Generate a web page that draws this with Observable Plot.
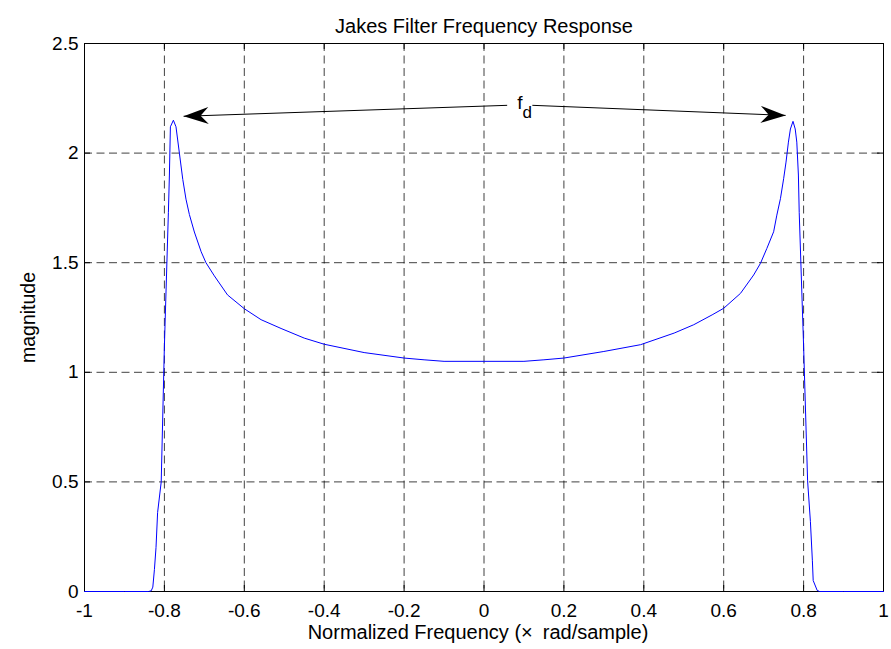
<!DOCTYPE html>
<html><head><meta charset="utf-8">
<script src="https://cdn.jsdelivr.net/npm/d3@7"></script>
<script src="https://cdn.jsdelivr.net/npm/@observablehq/plot@0.6"></script>
<style>body{margin:0;background:#fff} svg{display:block}</style>
</head><body><div id="chart"></div>
<script>
// Curve readings (normalized frequency, magnitude)
const freq = [-1, -0.9, -0.84, -0.833, -0.829, -0.825, -0.821, -0.817, -0.808, -0.80, -0.79, -0.7875, -0.785, -0.7775,
  -0.771, -0.7625, -0.754, -0.746, -0.7375, -0.725, -0.708, -0.696, -0.675, -0.642, -0.6, -0.558, -0.508, -0.45, -0.4,
  -0.3, -0.2, -0.15, -0.1, 0, 0.1, 0.15, 0.2, 0.3, 0.392, 0.476, 0.525, 0.571, 0.6, 0.642, 0.675, 0.692, 0.708, 0.725,
  0.733, 0.742, 0.75, 0.756, 0.762, 0.767, 0.7735, 0.779, 0.783, 0.787, 0.789, 0.80, 0.81, 0.817, 0.822, 0.824, 0.834,
  0.84, 0.9, 1];
const magnitude = [0, 0, 0, 0.003, 0.02, 0.10, 0.20, 0.36, 0.50, 1.12, 1.73, 1.90, 2.12, 2.15,
  2.12, 2.00, 1.88, 1.79, 1.72, 1.64, 1.55, 1.50, 1.44, 1.353, 1.29, 1.24, 1.20, 1.156, 1.128,
  1.09, 1.065, 1.057, 1.05, 1.05, 1.05, 1.057, 1.065, 1.095, 1.126, 1.179, 1.217, 1.262, 1.292, 1.36, 1.444, 1.497, 1.565, 1.641,
  1.717, 1.792, 1.883, 1.959, 2.05, 2.11, 2.145, 2.11, 2.05, 1.90, 1.73, 1.12, 0.505, 0.32, 0.14, 0.05, 0.005,
  0, 0, 0];

const xTicks = [-1, -0.8, -0.6, -0.4, -0.2, 0, 0.2, 0.4, 0.6, 0.8, 1];
const xTickLabels = ["-1", "-0.8", "-0.6", "-0.4", "-0.2", "0", "0.2", "0.4", "0.6", "0.8", "1"];
const yTicks = [0, 0.5, 1, 1.5, 2, 2.5];
const yTickLabels = ["0", "0.5", "1", "1.5", "2", "2.5"];

const titleText = "Jakes Filter Frequency Response";
const xLabelText = "Normalized Frequency (×\u2002rad/sample)";
const yLabelText = "magnitude";

// annotation: label "f_d" with two arrows to the peaks
const annotMain = [{label: "f", x: 0.09, y: 2.227}];
const annotSub = [{label: "d", x: 0.108, y: 2.186}];
const arrowStartX = [0.058, 0.121];
const arrowStartY = [2.218, 2.218];
const arrowEndX = [-0.752, 0.755];
const arrowEndY = [2.168, 2.172];

const xLabMap = new Map(xTicks.map((t, i) => [t, xTickLabels[i]]));
const yLabMap = new Map(yTicks.map((t, i) => [t, yTickLabels[i]]));
const points = freq.map((f, i) => ({f, m: magnitude[i]}));
const arrows = arrowStartX.map((x, i) => ({x1: x, y1: arrowStartY[i], x2: arrowEndX[i], y2: arrowEndY[i]}));

const W = 891, H = 649, mL = 84, mR = 8, mT = 43, mB = 58;
const innerW = W - mL - mR, innerH = H - mT - mB;
const gridStyle = {stroke: "#000", strokeOpacity: 0.75, strokeWidth: 1, strokeDasharray: "8,4.5"};

const svg = Plot.plot({
  width: W, height: H,
  marginLeft: mL, marginRight: mR, marginTop: mT, marginBottom: mB,
  x: {domain: [-1, 1]},
  y: {domain: [0, 2.5]},
  style: {fontFamily: "'Liberation Sans', Arial, sans-serif", fontSize: "19px", background: "#fff", color: "#000", overflow: "visible"},
  marks: [
    Plot.ruleX(xTicks.slice(1, -1), gridStyle),
    Plot.ruleY(yTicks.slice(1, -1), gridStyle),
    Plot.ruleX(xTicks, {stroke: "#000", insetTop: innerH - 6}),
    Plot.ruleX(xTicks, {stroke: "#000", insetBottom: innerH - 6}),
    Plot.ruleY(yTicks, {stroke: "#000", insetRight: innerW - 6}),
    Plot.ruleY(yTicks, {stroke: "#000", insetLeft: innerW - 6}),
    Plot.frame({stroke: "#000"}),
    Plot.line(points, {x: "f", y: "m", stroke: "#0000ff", strokeWidth: 1}),
    Plot.link(arrows, {x1: "x1", y1: "y1", x2: "x2", y2: "y2", stroke: "#000", strokeWidth: 1}),
    Plot.text(annotMain, {x: "x", y: "y", text: "label", fontSize: 19}),
    Plot.text(annotSub, {x: "x", y: "y", text: "label", fontSize: 17}),
    Plot.axisX({ticks: xTicks, tickSize: 0, tickPadding: 12, tickFormat: d => xLabMap.get(d), label: null, fontSize: 19}),
    Plot.axisY({ticks: yTicks, tickSize: 0, tickPadding: 6, tickFormat: d => yLabMap.get(d), label: null, fontSize: 19}),
    Plot.text([titleText], {text: d => d, frameAnchor: "top", dy: -25, fontSize: 20}),
    Plot.text([xLabelText], {text: d => d, frameAnchor: "bottom", dx: -6, dy: 47, fontSize: 20}),
    Plot.text([yLabelText], {text: d => d, frameAnchor: "left", textAnchor: "middle", dx: -56, rotate: -90, fontSize: 19.5})
  ]
});

// filled arrowheads on the annotation links
const ns = "http://www.w3.org/2000/svg";
const defs = document.createElementNS(ns, "defs");
const marker = document.createElementNS(ns, "marker");
marker.setAttribute("id", "ahead");
marker.setAttribute("markerUnits", "userSpaceOnUse");
marker.setAttribute("viewBox", "-27 -10 29 20");
marker.setAttribute("markerWidth", "29");
marker.setAttribute("markerHeight", "20");
marker.setAttribute("refX", "0");
marker.setAttribute("refY", "0");
marker.setAttribute("orient", "auto");
const mp = document.createElementNS(ns, "path");
mp.setAttribute("d", "M0,0L-25,-8.5L-17,0L-25,8.5Z");
mp.setAttribute("fill", "#000");
marker.appendChild(mp);
defs.appendChild(marker);
svg.insertBefore(defs, svg.firstChild);
svg.querySelectorAll('g[aria-label="link"] path').forEach(p => p.setAttribute("marker-end", "url(#ahead)"));

document.getElementById("chart").appendChild(svg);
</script>
</body></html>
